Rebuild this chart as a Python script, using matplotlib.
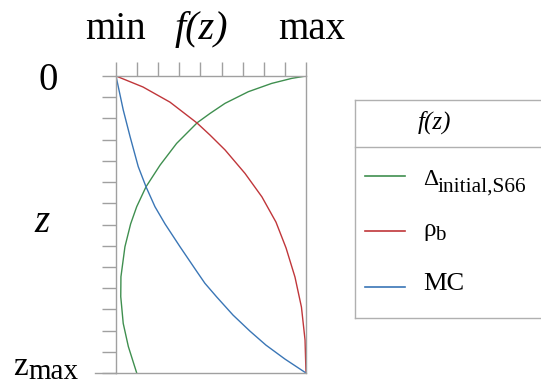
import matplotlib
matplotlib.use("Agg")
import matplotlib.pyplot as plt
from matplotlib.lines import Line2D
import numpy as np

# f(z) normalised (0=min, 1=max), z normalised (0=surface, 1=zmax)
green_f = [1.0, 0.925, 0.819, 0.696, 0.574, 0.495, 0.428, 0.319, 0.232, 0.158, 0.109, 0.077,
           0.047, 0.026, 0.025, 0.038, 0.065, 0.109]
green_z = [0.0, 0.008, 0.025, 0.053, 0.092, 0.126, 0.157, 0.227, 0.30, 0.373, 0.44, 0.498,
           0.575, 0.676, 0.743, 0.833, 0.911, 1.0]

red_f = [0.0, 0.142, 0.284, 0.426, 0.495, 0.574, 0.679, 0.768, 0.842, 0.895, 0.942, 0.976, 0.995, 1.0]
red_z = [0.0, 0.037, 0.088, 0.158, 0.199, 0.249, 0.328, 0.407, 0.492, 0.579, 0.677, 0.778, 0.889, 1.0]

blue_f = [0.0, 0.038, 0.074, 0.117, 0.158, 0.205, 0.258, 0.337, 0.425, 0.468, 0.530, 0.616, 0.705,
          0.789, 0.889, 1.0]
blue_z = [0.0, 0.114, 0.204, 0.305, 0.373, 0.440, 0.498, 0.575, 0.658, 0.698, 0.744, 0.805, 0.859,
          0.906, 0.953, 1.0]

labels = ["Δ", "ρ", "MC"]
colors = ["#3f8f4f", "#c0363a", "#3a76b6"]

W, H = 541, 384
fig = plt.figure(figsize=(W/100, H/100), dpi=100)
def fx(x): return x / W
def fy(y): return 1 - y / H

serif = "Liberation Serif"
gray = "#a0a0a0"

ax = fig.add_axes([fx(116), fy(373), (306-116)/W, (373-76)/H])
ax.plot(green_f, green_z, color=colors[0], lw=1.0)
ax.plot(red_f, red_z, color=colors[1], lw=1.0)
ax.plot(blue_f, blue_z, color=colors[2], lw=1.0)
ax.set_xlim(0, 1)
ax.set_ylim(1, 0)
ax.set_xticks(np.linspace(0, 1, 10))
ax.set_yticks(np.linspace(0, 1, 15))
ax.xaxis.tick_top()
ax.tick_params(axis='x', direction='out', length=10, width=1, color=gray, labeltop=False, labelbottom=False, top=True, bottom=False)
ax.tick_params(axis='y', direction='out', length=10, width=1, color=gray, labelleft=False, left=True, right=False)
for s in ax.spines.values():
    s.set_color(gray)
    s.set_linewidth(1)
# longer bottom baseline
fig.add_artist(Line2D([fx(95), fx(116)], [fy(373), fy(373)], color=gray, lw=1))

# big labels
fs = 28
fig.text(fx(115), fy(39), "min", fontsize=fs, family=serif, ha="center", va="baseline")
fig.text(fx(201), fy(39), "f(z)", fontsize=29, family=serif, style="italic", ha="center", va="baseline")
fig.text(fx(312), fy(39), "max", fontsize=fs, family=serif, ha="center", va="baseline")
fig.text(fx(48), fy(90), "0", fontsize=fs, family=serif, ha="center", va="baseline")
fig.text(fx(42), fy(232), "z", fontsize=fs, family=serif, style="italic", ha="center", va="baseline")
fig.text(fx(13), fy(375), "z", fontsize=24, family=serif, ha="left", va="baseline")
fig.text(fx(28), fy(379), "max", fontsize=21, family=serif, ha="left", va="baseline")

# legend table
lc = "#b0b0b0"
fig.add_artist(Line2D([fx(355), fx(541)], [fy(100), fy(100)], color=lc, lw=1))
fig.add_artist(Line2D([fx(355), fx(541)], [fy(147), fy(147)], color=lc, lw=1))
fig.add_artist(Line2D([fx(355), fx(541)], [fy(318), fy(318)], color=lc, lw=1))
fig.add_artist(Line2D([fx(355), fx(355)], [fy(100), fy(318)], color=lc, lw=1))
fig.text(fx(434), fy(129), "f(z)", fontsize=18, family=serif, style="italic", ha="center", va="baseline")

ly = [176, 231, 287]
for c, y in zip(colors, ly):
    fig.add_artist(Line2D([fx(365), fx(405)], [fy(y), fy(y)], color=c, lw=1.2))
fig.text(fx(423), fy(185), labels[0], fontsize=17, family=serif, ha="left", va="baseline")
fig.text(fx(438), fy(192), "initial,S66", fontsize=15.5, family=serif, ha="left", va="baseline")
fig.text(fx(423), fy(236), labels[1], fontsize=18, family=serif, ha="left", va="baseline")
fig.text(fx(435), fy(240), "b", fontsize=15, family=serif, ha="left", va="baseline")
fig.text(fx(423), fy(290), labels[2], fontsize=19, family=serif, ha="left", va="baseline")

fig.savefig("out.png", dpi=100)
